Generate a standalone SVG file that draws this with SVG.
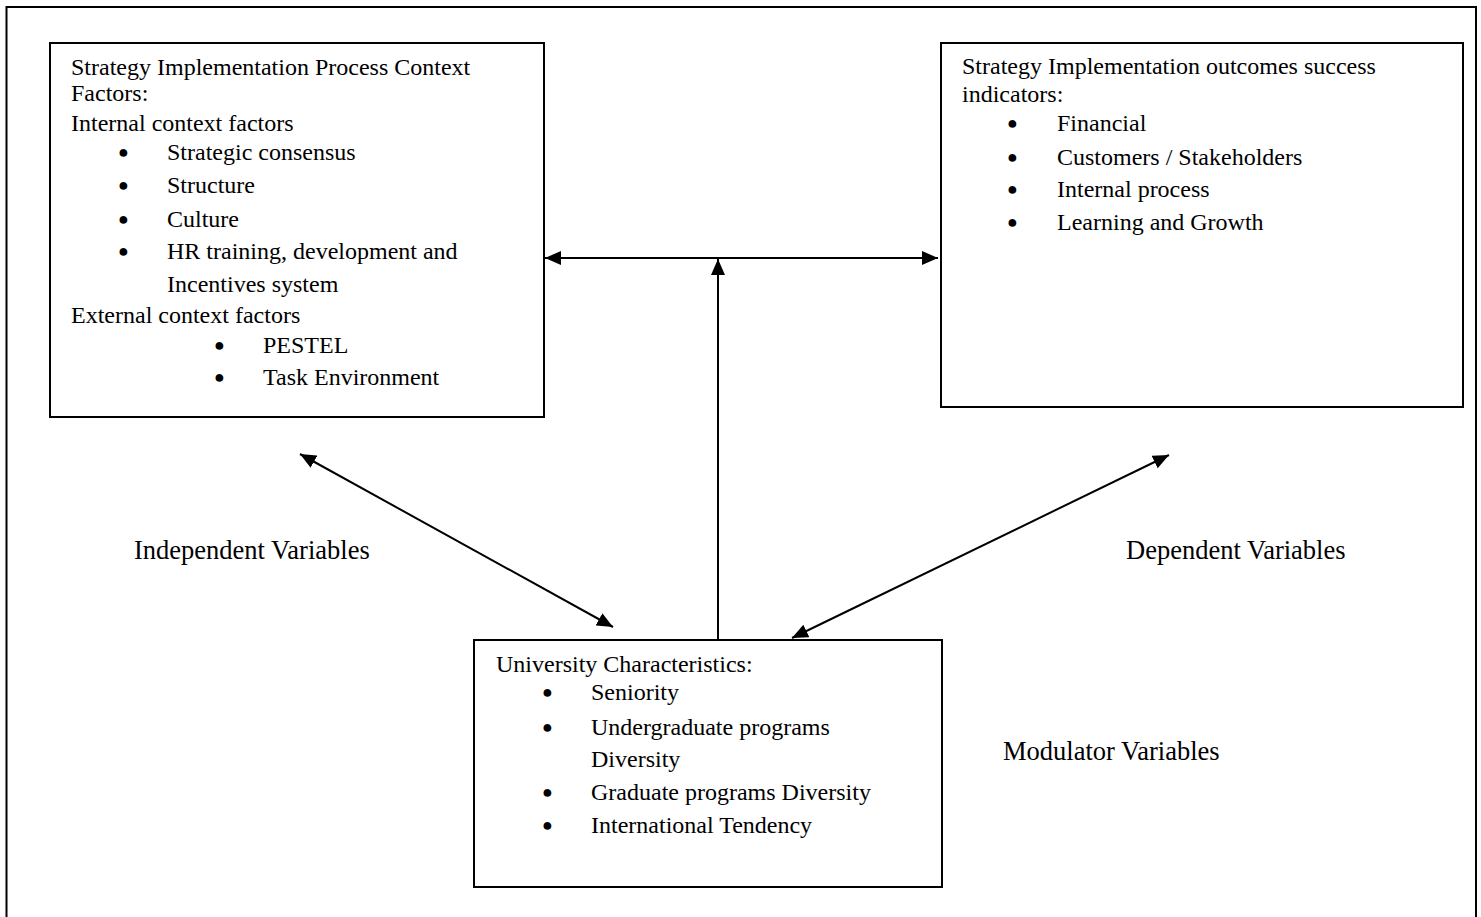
<svg xmlns="http://www.w3.org/2000/svg" width="1481" height="917" viewBox="0 0 1481 917">
<style>
  .box { fill: #fff; stroke: #000; stroke-width: 2; }
  .t { font-family: "Liberation Serif", "Times New Roman", serif; font-size: 24px; fill: #000; }
  .b { font-family: "Liberation Sans", Arial, sans-serif; font-size: 18px; fill: #000; }
  .lbl { font-family: "Liberation Serif", "Times New Roman", serif; font-size: 26.5px; fill: #000; }
  .c { fill: none; stroke: #000; stroke-width: 2; }
</style>
<defs>
  <marker id="ah" viewBox="0 0 16 14" refX="16" refY="7" markerWidth="16" markerHeight="14" markerUnits="userSpaceOnUse" orient="auto-start-reverse">
    <path d="M0,0 L16,7 L0,14 Z" fill="#000"/>
  </marker>
</defs>
<rect x="0" y="0" width="1481" height="917" fill="#fff"/>
<rect id="frame" x="6.5" y="7" width="1469.5" height="930" fill="none" stroke="#000" stroke-width="2"/>

<g id="connectors">
  <line class="c" x1="545" y1="258" x2="938" y2="258" marker-start="url(#ah)" marker-end="url(#ah)"/>
  <line class="c" x1="718" y1="640" x2="718" y2="259" marker-end="url(#ah)"/>
  <line class="c" x1="300" y1="454" x2="613" y2="627" marker-start="url(#ah)" marker-end="url(#ah)"/>
  <line class="c" x1="1169" y1="455" x2="792" y2="638" marker-start="url(#ah)" marker-end="url(#ah)"/>
</g>

<g id="context-factors">
  <rect class="box" x="50" y="43" width="494" height="374"/>
  <text class="t" x="71" y="75">Strategy Implementation Process Context</text>
  <text class="t" x="71" y="101">Factors:</text>
  <text class="t" x="71" y="131">Internal context factors</text>
  <text class="b" x="118" y="158">●</text><text class="t" x="167" y="160">Strategic consensus</text>
  <text class="b" x="118" y="191">●</text><text class="t" x="167" y="193">Structure</text>
  <text class="b" x="118" y="225">●</text><text class="t" x="167" y="227">Culture</text>
  <text class="b" x="118" y="257">●</text><text class="t" x="167" y="259">HR training, development and</text>
  <text class="t" x="167" y="292">Incentives system</text>
  <text class="t" x="71" y="323">External context factors</text>
  <text class="b" x="214" y="351">●</text><text class="t" x="263" y="353">PESTEL</text>
  <text class="b" x="214" y="383">●</text><text class="t" x="263" y="385">Task Environment</text>
</g>

<g id="outcomes">
  <rect class="box" x="941" y="43" width="522" height="364"/>
  <text class="t" x="962" y="74">Strategy Implementation outcomes success</text>
  <text class="t" x="962" y="102">indicators:</text>
  <text class="b" x="1007" y="129">●</text><text class="t" x="1057" y="131">Financial</text>
  <text class="b" x="1007" y="163">●</text><text class="t" x="1057" y="165">Customers / Stakeholders</text>
  <text class="b" x="1007" y="195">●</text><text class="t" x="1057" y="197">Internal process</text>
  <text class="b" x="1007" y="228">●</text><text class="t" x="1057" y="230">Learning and Growth</text>
</g>

<g id="university">
  <rect class="box" x="474" y="640" width="468" height="247"/>
  <text class="t" x="496" y="672">University Characteristics:</text>
  <text class="b" x="542" y="698">●</text><text class="t" x="591" y="700">Seniority</text>
  <text class="b" x="542" y="733">●</text><text class="t" x="591" y="735">Undergraduate programs</text>
  <text class="t" x="591" y="767">Diversity</text>
  <text class="b" x="542" y="798">●</text><text class="t" x="591" y="800">Graduate programs Diversity</text>
  <text class="b" x="542" y="831">●</text><text class="t" x="591" y="833">International Tendency</text>
</g>

<g id="labels">
  <text class="lbl" x="134" y="559">Independent Variables</text>
  <text class="lbl" x="1126" y="559">Dependent Variables</text>
  <text class="lbl" x="1003" y="760">Modulator Variables</text>
</g>
</svg>
